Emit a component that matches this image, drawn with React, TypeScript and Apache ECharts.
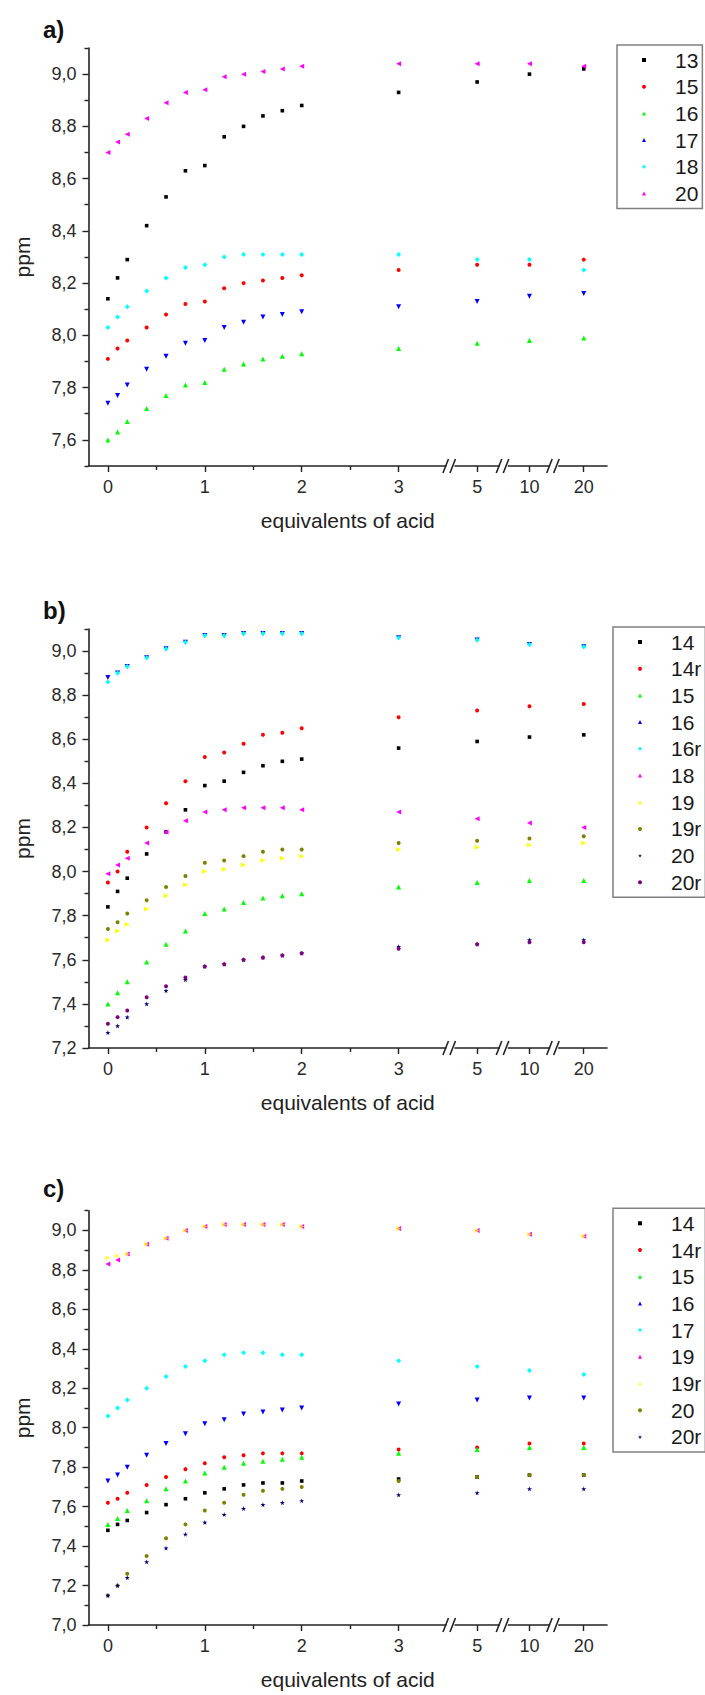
import React, { useEffect, useRef } from "react";
import * as echarts from "echarts";

// ---------- data ----------
const EQUIV = [0, 0.1, 0.2, 0.4, 0.6, 0.8, 1, 1.2, 1.4, 1.6, 1.8, 2, 3, 5, 10, 20];
const X_TICK_VALUES = [0, 1, 2, 3, 5, 10, 20];
const X_TICK_LABELS = ["0", "1", "2", "3", "5", "10", "20"];
const X_MINOR_TICKS = [0.5, 1.5, 2.5];

// panel a
const A_13 = [8.14, 8.22, 8.29, 8.42, 8.53, 8.63, 8.65, 8.76, 8.8, 8.84, 8.86, 8.88, 8.93, 8.97, 9.0, 9.02];
const A_15 = [7.91, 7.95, 7.98, 8.03, 8.08, 8.12, 8.13, 8.18, 8.2, 8.21, 8.22, 8.23, 8.25, 8.27, 8.27, 8.29];
const A_16 = [7.6, 7.63, 7.67, 7.72, 7.77, 7.81, 7.82, 7.87, 7.89, 7.91, 7.92, 7.93, 7.95, 7.97, 7.98, 7.99];
const A_17 = [7.74, 7.77, 7.81, 7.87, 7.92, 7.97, 7.98, 8.03, 8.05, 8.07, 8.08, 8.09, 8.11, 8.13, 8.15, 8.16];
const A_18 = [8.03, 8.07, 8.11, 8.17, 8.22, 8.26, 8.27, 8.3, 8.31, 8.31, 8.31, 8.31, 8.31, 8.29, 8.29, 8.25];
const A_20 = [8.7, 8.74, 8.77, 8.83, 8.89, 8.93, 8.94, 8.99, 9.0, 9.01, 9.02, 9.03, 9.04, 9.04, 9.04, 9.03];
const A_Y_TICKS = [7.6, 7.8, 8.0, 8.2, 8.4, 8.6, 8.8, 9.0];

// panel b
const B_14 = [7.84, 7.91, 7.97, 8.08, 8.18, 8.28, 8.39, 8.41, 8.45, 8.48, 8.5, 8.51, 8.56, 8.59, 8.61, 8.62];
const B_14R = [7.95, 8.0, 8.09, 8.2, 8.31, 8.41, 8.52, 8.54, 8.58, 8.62, 8.63, 8.65, 8.7, 8.73, 8.75, 8.76];
const B_15 = [7.4, 7.45, 7.5, 7.59, 7.67, 7.73, 7.81, 7.83, 7.86, 7.88, 7.89, 7.9, 7.93, 7.95, 7.96, 7.96];
const B_16 = [8.88, 8.9, 8.93, 8.97, 9.01, 9.04, 9.07, 9.07, 9.08, 9.08, 9.08, 9.08, 9.06, 9.05, 9.03, 9.02];
const B_16R = [8.86, 8.9, 8.93, 8.97, 9.01, 9.04, 9.07, 9.07, 9.08, 9.08, 9.08, 9.08, 9.06, 9.05, 9.03, 9.02];
const B_18 = [7.99, 8.03, 8.06, 8.13, 8.18, 8.23, 8.27, 8.28, 8.29, 8.29, 8.29, 8.28, 8.27, 8.24, 8.22, 8.2];
const B_19 = [7.69, 7.73, 7.76, 7.83, 7.89, 7.94, 8.0, 8.01, 8.03, 8.05, 8.06, 8.07, 8.1, 8.11, 8.12, 8.13];
const B_19R = [7.74, 7.77, 7.81, 7.87, 7.93, 7.98, 8.04, 8.05, 8.07, 8.09, 8.1, 8.1, 8.13, 8.14, 8.15, 8.16];
const B_20 = [7.27, 7.3, 7.34, 7.4, 7.46, 7.51, 7.57, 7.58, 7.6, 7.61, 7.62, 7.63, 7.66, 7.67, 7.69, 7.69];
const B_20R = [7.31, 7.34, 7.37, 7.43, 7.48, 7.52, 7.57, 7.58, 7.6, 7.61, 7.62, 7.63, 7.65, 7.67, 7.68, 7.68];
const B_Y_TICKS = [7.2, 7.4, 7.6, 7.8, 8.0, 8.2, 8.4, 8.6, 8.8, 9.0];

// panel c
const C_14 = [7.48, 7.51, 7.53, 7.57, 7.61, 7.64, 7.67, 7.69, 7.71, 7.72, 7.72, 7.73, 7.74, 7.75, 7.76, 7.76];
const C_14R = [7.62, 7.64, 7.67, 7.71, 7.75, 7.79, 7.82, 7.85, 7.86, 7.87, 7.87, 7.87, 7.89, 7.9, 7.92, 7.92];
const C_15 = [7.51, 7.54, 7.58, 7.63, 7.69, 7.73, 7.77, 7.8, 7.82, 7.83, 7.84, 7.85, 7.87, 7.89, 7.9, 7.9];
const C_16 = [7.73, 7.76, 7.8, 7.86, 7.92, 7.97, 8.02, 8.04, 8.07, 8.08, 8.09, 8.1, 8.12, 8.14, 8.15, 8.15];
const C_17 = [8.06, 8.1, 8.14, 8.2, 8.26, 8.31, 8.34, 8.37, 8.38, 8.38, 8.37, 8.37, 8.34, 8.31, 8.29, 8.27];
const C_19 = [8.83, 8.85, 8.88, 8.93, 8.96, 9.0, 9.02, 9.03, 9.03, 9.03, 9.03, 9.02, 9.01, 9.0, 8.98, 8.97];
const C_19R = [8.86, 8.87, 8.88, 8.93, 8.96, 9.0, 9.02, 9.03, 9.03, 9.03, 9.03, 9.02, 9.01, 9.0, 8.98, 8.97];
const C_20 = [7.15, 7.2, 7.26, 7.35, 7.44, 7.51, 7.58, 7.62, 7.66, 7.68, 7.69, 7.7, 7.73, 7.75, 7.76, 7.76];
const C_20R = [7.15, 7.2, 7.24, 7.32, 7.39, 7.46, 7.52, 7.56, 7.59, 7.61, 7.62, 7.63, 7.66, 7.67, 7.69, 7.69];
const C_Y_TICKS = [7.0, 7.2, 7.4, 7.6, 7.8, 8.0, 8.2, 8.4, 8.6, 8.8, 9.0];

// ---------- broken x axis layout ----------
const BROKEN_POS: Record<number, number> = { 5: 3.81, 10: 4.35, 20: 4.91 };
const BREAK_MARKS = [3.54, 4.09, 4.61];
const axisPos = (v: number) => (v <= 3 ? v : BROKEN_POS[v]);

// ---------- styles ----------
const FONT = "'Liberation Sans', Arial, sans-serif";
const STAR = "path://M50,0 L61,35 L98,35 L68,57 L79,91 L50,70 L21,91 L32,57 L2,35 L39,35 Z";
const SYMBOLS: { symbol: string; rotate?: number; size: number }[] = [
  { symbol: "rect", size: 3.6 },
  { symbol: "circle", size: 4 },
  { symbol: "triangle", size: 5 },
  { symbol: "triangle", rotate: 180, size: 5 },
  { symbol: "diamond", size: 5 },
  { symbol: "triangle", rotate: 90, size: 5 },
  { symbol: "triangle", rotate: -90, size: 5 },
  { symbol: "circle", size: 4 },
  { symbol: STAR, size: 5 },
  { symbol: "circle", size: 4 },
];

type S = { name: string; data: number[]; color: string; opacity?: number };

const PANELS = [
  {
    label: "a)", height: 560, gridTop: 48, gridHeight: 418, yMin: 7.5, yMax: 9.1, yTicks: A_Y_TICKS,
    legendLeft: 617, legendTop: 45, labelTop: 17,
    series: [
      { name: "13", data: A_13, color: "#000000" },
      { name: "15", data: A_15, color: "#ff0000" },
      { name: "16", data: A_16, color: "#00ff00" },
      { name: "17", data: A_17, color: "#0000ff" },
      { name: "18", data: A_18, color: "#00ffff" },
      { name: "20", data: A_20, color: "#ff00ff" },
    ] as S[],
  },
  {
    label: "b)", height: 560, gridTop: 69, gridHeight: 419, yMin: 7.2, yMax: 9.1, yTicks: B_Y_TICKS,
    legendLeft: 613, legendTop: 67, labelTop: 38,
    series: [
      { name: "14", data: B_14, color: "#000000" },
      { name: "14r", data: B_14R, color: "#ff0000" },
      { name: "15", data: B_15, color: "#00ff00" },
      { name: "16", data: B_16, color: "#0000ff" },
      { name: "16r", data: B_16R, color: "#00ffff" },
      { name: "18", data: B_18, color: "#ff00ff" },
      { name: "19", data: B_19, color: "#ffff00" },
      { name: "19r", data: B_19R, color: "#808000" },
      { name: "20", data: B_20, color: "#000080" },
      { name: "20r", data: B_20R, color: "#800080" },
    ] as S[],
  },
  {
    label: "c)", height: 575, gridTop: 90.7, gridHeight: 417, yMin: 7.0, yMax: 9.1, yTicks: C_Y_TICKS,
    legendLeft: 613, legendTop: 88.3, labelTop: 56,
    series: [
      { name: "14", data: C_14, color: "#000000" },
      { name: "14r", data: C_14R, color: "#ff0000" },
      { name: "15", data: C_15, color: "#00ff00" },
      { name: "16", data: C_16, color: "#0000ff" },
      { name: "17", data: C_17, color: "#00ffff" },
      { name: "19", data: C_19, color: "#ff00ff" },
      { name: "19r", data: C_19R, color: "#ffff00", opacity: 0.75 },
      { name: "20", data: C_20, color: "#808000" },
      { name: "20r", data: C_20R, color: "#000080" },
    ] as S[],
  },
];

const GRID_LEFT = 88.5;
const GRID_WIDTH = 518.5;
const X_MIN = -0.2;
const X_MAX = 5.15;
const LEGEND_ICON = 4;

function buildOption(p: (typeof PANELS)[number]) {
  const majorX = X_TICK_VALUES.map(axisPos);
  const minorY: number[] = [];
  for (let i = 0; i < p.yTicks.length; i++) {
    const m = Math.round((p.yTicks[i] + 0.1) * 10) / 10;
    if (m <= p.yMax) minorY.push(m);
  }
  if (p.yMin < p.yTicks[0]) minorY.unshift(p.yMin);

  const scatter = p.series.map((s, i) => {
    const sym = SYMBOLS[i % SYMBOLS.length];
    return {
      type: "scatter",
      name: s.name,
      xAxisIndex: 0,
      yAxisIndex: 0,
      symbol: sym.symbol,
      symbolRotate: sym.rotate || 0,
      symbolSize: sym.size,
      itemStyle: { color: s.color, opacity: s.opacity ?? 1 },
      data: EQUIV.map((e, k) => [axisPos(e), s.data[k]]),
      z: 3 + i,
    };
  });

  const breaks = {
    type: "custom",
    xAxisIndex: 0,
    yAxisIndex: 0,
    clip: false,
    silent: true,
    z: 30,
    data: BREAK_MARKS.map((b) => [b, p.yMin]),
    renderItem: (_params: any, api: any) => {
      const pt = api.coord([api.value(0), api.value(1)]);
      const cx = pt[0];
      const cy = pt[1];
      return {
        type: "group",
        children: [
          { type: "rect", shape: { x: cx - 4.5, y: cy - 3, width: 8, height: 6 }, style: { fill: "#ffffff" } },
          { type: "line", shape: { x1: cx - 8, y1: cy + 7, x2: cx - 2.5, y2: cy - 7 }, style: { stroke: "#222", lineWidth: 1.6 } },
          { type: "line", shape: { x1: cx - 1, y1: cy + 7, x2: cx + 4.5, y2: cy - 7 }, style: { stroke: "#222", lineWidth: 1.6 } },
        ],
      };
    },
  };

  const fmtY = (v: number) => v.toFixed(1).replace(".", ",");
  const fmtX = (v: number) => {
    let best = 0;
    for (let i = 0; i < majorX.length; i++) if (Math.abs(majorX[i] - v) < Math.abs(majorX[best] - v)) best = i;
    return X_TICK_LABELS[best];
  };

  const iconPadLeft = 27 - LEGEND_ICON / 2;
  const textPadLeft = 58 - (iconPadLeft + LEGEND_ICON + 5);

  return {
    animation: false,
    backgroundColor: "#ffffff",
    title: {
      text: p.label,
      left: 43,
      top: p.labelTop,
      padding: 0,
      textStyle: { fontFamily: FONT, fontSize: 24, fontWeight: "bold", color: "#111" },
    },
    grid: { left: GRID_LEFT, top: p.gridTop, width: GRID_WIDTH, height: p.gridHeight, containLabel: false },
    legend: {
      orient: "vertical",
      left: p.legendLeft,
      top: p.legendTop,
      padding: [4.5, 4, 4.5, iconPadLeft],
      itemGap: 5.7,
      itemWidth: LEGEND_ICON,
      itemHeight: LEGEND_ICON,
      selectedMode: false,
      borderColor: "#808080",
      borderWidth: 1.5,
      backgroundColor: "#ffffff",
      textStyle: { fontFamily: FONT, fontSize: 21, lineHeight: 21, color: "#1a1a1a", padding: [0, 0, 0, textPadLeft] },
      data: p.series.map((s) => s.name),
    },
    xAxis: [
      {
        type: "value",
        min: X_MIN,
        max: X_MAX,
        name: "equivalents of acid",
        nameLocation: "middle",
        nameGap: 44,
        nameTextStyle: { fontFamily: FONT, fontSize: 21, color: "#222" },
        axisLine: { show: true, onZero: false, lineStyle: { color: "#222", width: 1.6 } },
        axisTick: { show: true, inside: false, length: 6, customValues: majorX, lineStyle: { color: "#222", width: 1.4 } },
        axisLabel: { show: true, customValues: majorX, formatter: fmtX, margin: 12, fontFamily: FONT, fontSize: 18, color: "#2a2a2a" },
        splitLine: { show: false },
      },
      {
        type: "value",
        min: X_MIN,
        max: X_MAX,
        position: "bottom",
        axisLine: { show: false, onZero: false },
        axisTick: { show: true, inside: false, length: 4, customValues: X_MINOR_TICKS, lineStyle: { color: "#222", width: 1.4 } },
        axisLabel: { show: false },
        splitLine: { show: false },
      },
    ],
    yAxis: [
      {
        type: "value",
        min: p.yMin,
        max: p.yMax,
        name: "ppm",
        nameLocation: "middle",
        nameGap: 56,
        nameTextStyle: { fontFamily: FONT, fontSize: 21, color: "#222" },
        axisLine: { show: true, onZero: false, lineStyle: { color: "#222", width: 1.6 } },
        axisTick: { show: true, inside: false, length: 6, customValues: p.yTicks, lineStyle: { color: "#222", width: 1.4 } },
        axisLabel: { show: true, customValues: p.yTicks, formatter: fmtY, margin: 12, fontFamily: FONT, fontSize: 18, color: "#2a2a2a" },
        splitLine: { show: false },
      },
      {
        type: "value",
        min: p.yMin,
        max: p.yMax,
        position: "left",
        axisLine: { show: false, onZero: false },
        axisTick: { show: true, inside: false, length: 4, customValues: minorY, lineStyle: { color: "#222", width: 1.4 } },
        axisLabel: { show: false },
        splitLine: { show: false },
      },
    ],
    series: [...scatter, breaks],
  };
}

function Panel({ cfg }: { cfg: (typeof PANELS)[number] }) {
  const ref = useRef<HTMLDivElement | null>(null);
  useEffect(() => {
    if (!ref.current) return;
    const chart = echarts.init(ref.current, undefined, { renderer: "svg" });
    chart.setOption(buildOption(cfg) as any);
    return () => chart.dispose();
  }, [cfg]);
  return <div ref={ref} style={{ width: 705, height: cfg.height }} />;
}

export default function App() {
  return (
    <div style={{ position: "absolute", left: 0, top: 0, width: 705, height: 1695, background: "#ffffff" }}>
      {PANELS.map((p) => (
        <Panel key={p.label} cfg={p} />
      ))}
    </div>
  );
}
